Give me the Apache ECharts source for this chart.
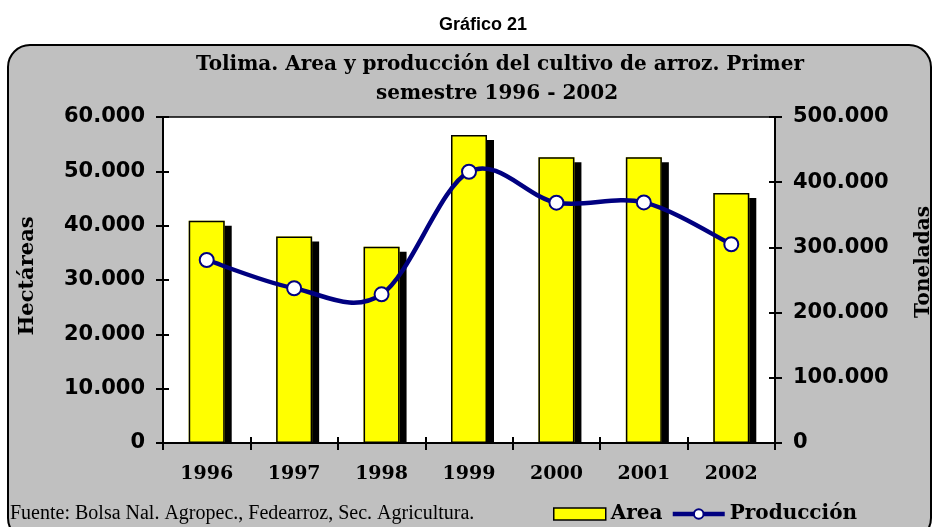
<!DOCTYPE html>
<html>
<head>
<meta charset="utf-8">
<script src="https://cdn.jsdelivr.net/npm/echarts@6/dist/echarts.min.js"></script>
<style>
  html, body { margin: 0; padding: 0; background: #ffffff; }
  #chart { width: 934px; height: 527px; }
</style>
</head>
<body>
<div id="chart"></div>
<script>
// ---- Data ----
const years = ['1996', '1997', '1998', '1999', '2000', '2001', '2002'];
const areaHa = [40900, 38000, 36100, 56700, 52600, 52600, 46000];
const produccionTon = [280700, 237300, 228000, 416000, 368600, 369000, 304800];
const leftTicks = { min: 0, max: 60000, interval: 10000 };
const rightTicks = { min: 0, max: 500000, interval: 100000 };

function fmtThousands(v) {
  return String(v).replace(/\B(?=(\d{3})+(?!\d))/g, '.');
}

const chart = echarts.init(document.getElementById('chart'), null, { renderer: 'canvas' });

const axisTickLabel = {
  color: '#000', fontFamily: 'DejaVu Sans', fontWeight: 'bold', fontSize: 21, margin: 18,
  formatter: fmtThousands
};

// Smooth curve segment (Excel-like Catmull-Rom bezier) from point i to i+1,
// with every point placed through the chart's own axes (api.coord).
function renderCurveSegment(params, api) {
  const i = params.dataIndex;
  const n = produccionTon.length;
  if (i >= n - 1) return null;
  const P = (k) => api.coord([Math.max(0, Math.min(n - 1, k)), produccionTon[Math.max(0, Math.min(n - 1, k))]]);
  const p0 = P(i - 1), p1 = P(i), p2 = P(i + 1), p3 = P(i + 2);
  const c1 = [p1[0] + (p2[0] - p0[0]) / 6, p1[1] + (p2[1] - p0[1]) / 6];
  const c2 = [p2[0] - (p3[0] - p1[0]) / 6, p2[1] - (p3[1] - p1[1]) / 6];
  return {
    type: 'bezierCurve',
    shape: { x1: p1[0], y1: p1[1], x2: p2[0], y2: p2[1],
             cpx1: c1[0], cpy1: c1[1], cpx2: c2[0], cpy2: c2[1] },
    style: { stroke: '#000080', lineWidth: 4.5, fill: null, lineCap: 'round' }
  };
}

const option = {
  animation: false,
  backgroundColor: '#ffffff',
  graphic: [
    {
      id: 'panel', type: 'rect', z: -10, silent: true,
      shape: { x: 8, y: 45, width: 923, height: 495, r: 22 },
      style: { fill: '#C0C0C0', stroke: '#000', lineWidth: 2 }
    },
    {
      id: 'fig', type: 'text', x: 483, y: 25, z: 10,
      style: { text: 'Gráfico 21', fill: '#000', font: 'bold 18px "Liberation Sans"',
               textAlign: 'center', textVerticalAlign: 'middle' }
    },
    {
      id: 't1', type: 'text', x: 500, y: 65, z: 10,
      style: { text: 'Tolima. Area y producción del cultivo de arroz. Primer', fill: '#000',
               font: 'bold 20px "DejaVu Serif"', textAlign: 'center', textVerticalAlign: 'middle' }
    },
    {
      id: 't2', type: 'text', x: 497, y: 94, z: 10,
      style: { text: 'semestre 1996 - 2002', fill: '#000',
               font: 'bold 20px "DejaVu Serif"', textAlign: 'center', textVerticalAlign: 'middle' }
    },
    {
      id: 'yl', type: 'text', x: 28, y: 276, rotation: Math.PI / 2, z: 10,
      style: { text: 'Hectáreas', fill: '#000', font: 'bold 21px "DejaVu Serif"',
               textAlign: 'center', textVerticalAlign: 'middle' }
    },
    {
      id: 'yr', type: 'text', x: 924, y: 262, rotation: Math.PI / 2, z: 10,
      style: { text: 'Toneladas', fill: '#000', font: 'bold 20px "DejaVu Serif"',
               textAlign: 'center', textVerticalAlign: 'middle' }
    },
    {
      id: 'src', type: 'text', x: 10, y: 514, z: 10,
      style: { text: 'Fuente: Bolsa Nal. Agropec., Fedearroz, Sec. Agricultura.', fill: '#000',
               font: '20px "Liberation Serif"', textAlign: 'left', textVerticalAlign: 'middle' }
    }
  ],
  grid: {
    left: 163, right: 159, top: 117, bottom: 84,
    show: true, backgroundColor: '#ffffff', borderColor: '#000', borderWidth: 1.5
  },
  legend: {
    left: 548, top: 499,
    itemWidth: 52, itemHeight: 12, itemGap: 8,
    textStyle: { color: '#000', fontFamily: 'DejaVu Serif', fontWeight: 'bold', fontSize: 20 },
    data: [
      { name: 'Area', icon: 'rect',
        itemStyle: { color: '#FFFF00', borderColor: '#000', borderWidth: 1.5,
                     shadowBlur: 0, shadowOffsetX: 0, shadowOffsetY: 0, shadowColor: 'transparent' } },
      { name: 'Producción',
        lineStyle: { color: '#000080', width: 4.5, opacity: 1 } }
    ]
  },
  xAxis: [
    {
      type: 'category', data: years, z: 5,
      axisLine: { lineStyle: { color: '#000', width: 2 } },
      axisTick: { show: true, length: 7, lineStyle: { color: '#000', width: 2 } },
      axisLabel: { color: '#000', fontFamily: 'DejaVu Serif', fontWeight: 'bold', fontSize: 19, margin: 22 }
    },
    {
      type: 'category', data: years, position: 'bottom', z: 5,
      axisLine: { show: false },
      axisTick: { show: true, inside: true, length: 6, lineStyle: { color: '#000', width: 2 } },
      axisLabel: { show: false }
    }
  ],
  yAxis: [
    {
      type: 'value', position: 'left', ...leftTicks, z: 5,
      axisLine: { show: true, lineStyle: { color: '#000', width: 2 } },
      axisTick: { show: true, length: 7, lineStyle: { color: '#000', width: 2 } },
      splitLine: { show: false },
      axisLabel: axisTickLabel
    },
    {
      type: 'value', position: 'right', ...rightTicks, z: 5,
      axisLine: { show: true, lineStyle: { color: '#000', width: 2 } },
      axisTick: { show: true, length: 7, lineStyle: { color: '#000', width: 2 } },
      splitLine: { show: false },
      axisLabel: axisTickLabel
    },
    {
      type: 'value', position: 'left', ...leftTicks, z: 5,
      axisLine: { show: false },
      axisTick: { show: true, inside: true, length: 6, lineStyle: { color: '#000', width: 2 } },
      splitLine: { show: false }, axisLabel: { show: false }
    },
    {
      type: 'value', position: 'right', ...rightTicks, z: 5,
      axisLine: { show: false },
      axisTick: { show: true, inside: true, length: 6, lineStyle: { color: '#000', width: 2 } },
      splitLine: { show: false }, axisLabel: { show: false }
    }
  ],
  series: [
    {
      // yellow fill with its hard black drop shadow
      name: 'Area', type: 'bar', xAxisIndex: 0, yAxisIndex: 0,
      data: areaHa, barWidth: 36,
      itemStyle: {
        color: '#FFFF00', borderWidth: 0,
        shadowColor: '#000', shadowBlur: 0, shadowOffsetX: 7, shadowOffsetY: 5
      },
      emphasis: { disabled: true }
    },
    {
      // thin black outline of the same bars
      name: 'Area', type: 'bar', xAxisIndex: 0, yAxisIndex: 0,
      data: areaHa, barWidth: 36, barGap: '-100%',
      itemStyle: { color: 'rgba(0,0,0,0)', borderColor: '#000', borderWidth: 1.5 },
      emphasis: { disabled: true }
    },
    {
      name: 'ProdCurve', type: 'custom', xAxisIndex: 0, yAxisIndex: 1,
      data: produccionTon.map((v, i) => [i, v]),
      renderItem: renderCurveSegment, silent: true, z: 3
    },
    {
      name: 'Producción', type: 'line', xAxisIndex: 0, yAxisIndex: 1, z: 4,
      data: produccionTon,
      symbol: 'circle', symbolSize: 14, showAllSymbol: true,
      lineStyle: { color: '#000080', width: 4.5, opacity: 0 },
      itemStyle: { color: '#ffffff', borderColor: '#000080', borderWidth: 2 },
      emphasis: { disabled: true }
    }
  ]
};

chart.setOption(option);

// Cover the bar shadows that fall below the x axis (as in the reference).
const gridRect = chart.getModel().getComponent('grid').coordinateSystem.getRect();
chart.setOption({
  graphic: [{
    id: 'shadowCover', type: 'rect', z: 3, silent: true,
    shape: { x: gridRect.x, y: gridRect.y + gridRect.height + 1, width: gridRect.width, height: 8 },
    style: { fill: '#C0C0C0' }
  }]
});
</script>
</body>
</html>
